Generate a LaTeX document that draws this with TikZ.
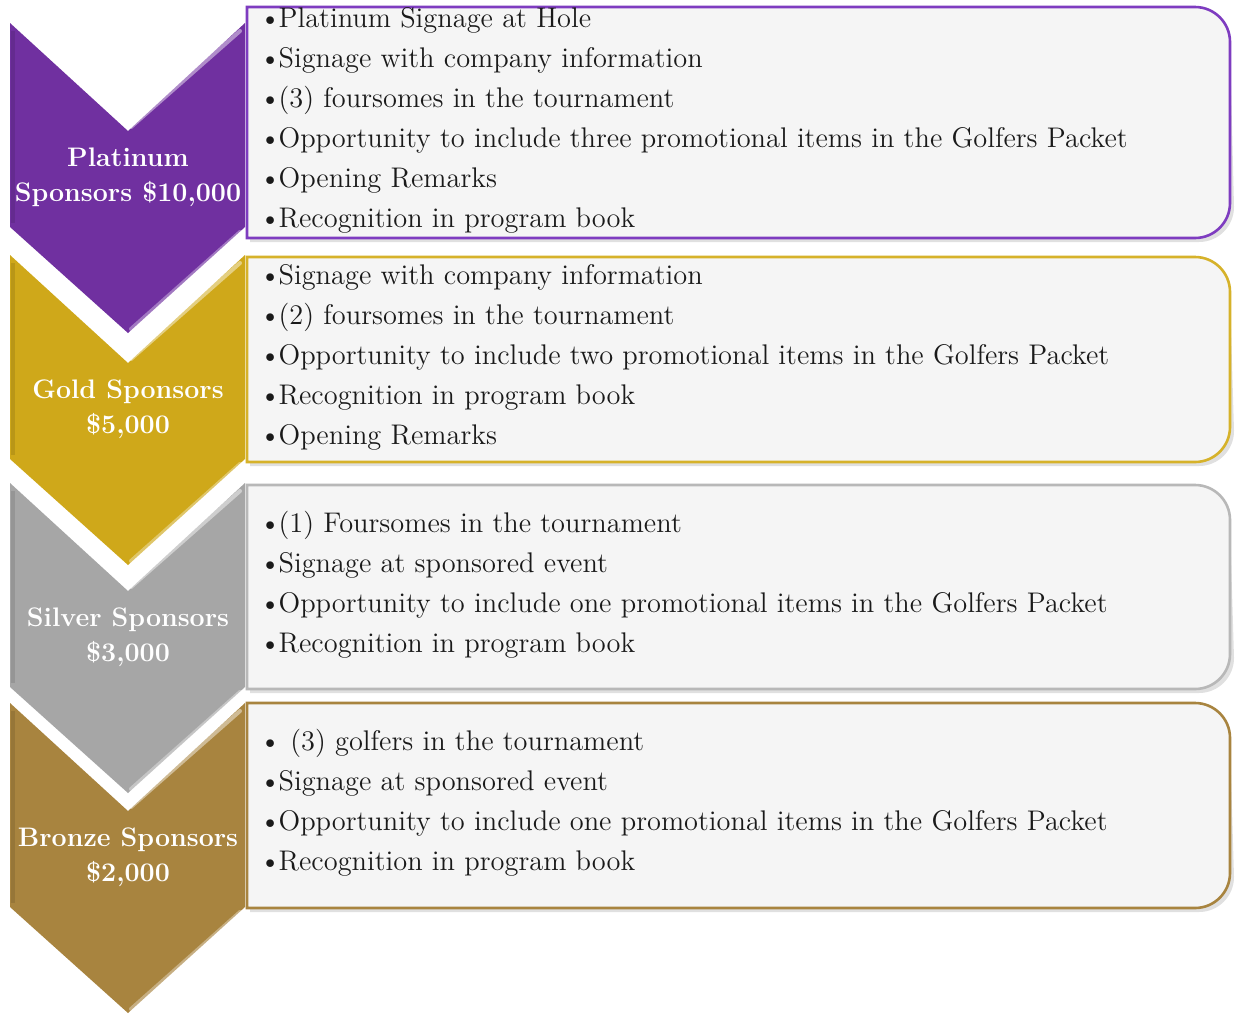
\documentclass[tikz,border=0pt]{standalone}
\usetikzlibrary{calc}
\definecolor{cplat}{HTML}{7030A0}
\definecolor{cplatb}{HTML}{7E3CC0}
\definecolor{cgold}{HTML}{CFA81A}
\definecolor{cgoldb}{HTML}{D6B22A}
\definecolor{csilv}{HTML}{A6A6A6}
\definecolor{csilvb}{HTML}{B8B8B8}
\definecolor{cbron}{HTML}{A8843F}
\definecolor{cbronb}{HTML}{A8843F}
\definecolor{boxfill}{HTML}{F5F5F5}
\definecolor{txt}{HTML}{1A1A1A}
\newcommand{\bu}{\textbullet\kern-1.2pt}
\tikzset{
  chevlabel/.style={text=white, font=\bfseries\fontsize{13.4}{17.5}\selectfont, align=center, inner sep=0pt},
  listtext/.style={text=txt, font=\fontsize{14.2}{20}\selectfont, align=left, anchor=west, inner sep=0pt},
}
\newcommand{\mychev}[4]{% top, colour, name, label
  \fill[#2] (10,#1) -- (128,#1+108) -- (245,#1) -- (245,#1+204) -- (128,#1+310) -- (10,#1+204) -- cycle;
  \draw[white, opacity=0.45, line width=2pt, line cap=round] (131,#1+104) -- (240,#1+8);
  \draw[white, opacity=0.35, line width=2pt, line cap=round] (131,#1+306) -- (240,#1+209);
  \draw[black, opacity=0.10, line width=2pt] (13,#1+8) -- (13,#1+200);
  \node[chevlabel] (#3) at (128,#1+154) {#4};
}
\newcommand{\mybox}[5]{% top, bottom, colour, name, text
  \fill[black, opacity=0.12] (250,#1+4) -- (1195,#1+4) arc[start angle=90, end angle=0, radius=17.5pt] -- (1234,#2-31) arc[start angle=0, end angle=-90, radius=17.5pt] -- (250,#2+4) -- cycle;
  \filldraw[fill=boxfill, draw=#3, line width=1.3pt] (247,#1) -- (1195,#1) arc[start angle=90, end angle=0, radius=17.5pt] -- (1230,#2-35) arc[start angle=0, end angle=-90, radius=17.5pt] -- (247,#2) -- cycle;
  \node[listtext] (#4) at (259,{(#1+#2)/2-2.5}) {#5};
}
\begin{document}
\begin{tikzpicture}[x=0.5pt, y=-0.5pt]
\useasboundingbox (0,0) rectangle (1236,1013);
\fill[white] (0,0) rectangle (1236,1013);
% boxes
\mybox{7}{238}{cplatb}{platlist}{\bu Platinum Signage at Hole\\
\bu Signage with company information\\
\bu(3) foursomes in the tournament\\
\bu Opportunity to include three promotional items in the Golfers Packet\\
\bu Opening Remarks\\
\bu Recognition in program book}
\mybox{257}{462}{cgoldb}{goldlist}{\bu Signage with company information\\
\bu(2) foursomes in the tournament\\
\bu Opportunity to include two promotional items in the Golfers Packet\\
\bu Recognition in program book\\
\bu Opening Remarks}
\mybox{485}{689}{csilvb}{silvlist}{\bu(1) Foursomes in the tournament\\
\bu Signage at sponsored event\\
\bu Opportunity to include one promotional items in the Golfers Packet\\
\bu Recognition in program book}
\mybox{703}{908}{cbronb}{bronlist}{\textbullet\ (3) golfers in the tournament\\
\bu Signage at sponsored event\\
\bu Opportunity to include one promotional items in the Golfers Packet\\
\bu Recognition in program book}
% chevrons
\mychev{23}{cplat}{plat}{Platinum\\Sponsors \$10,000}
\mychev{255}{cgold}{gold}{Gold Sponsors\\\$5,000}
\mychev{483}{csilv}{silv}{Silver Sponsors\\\$3,000}
\mychev{703}{cbron}{bron}{Bronze Sponsors\\\$2,000}
\end{tikzpicture}
\end{document}
